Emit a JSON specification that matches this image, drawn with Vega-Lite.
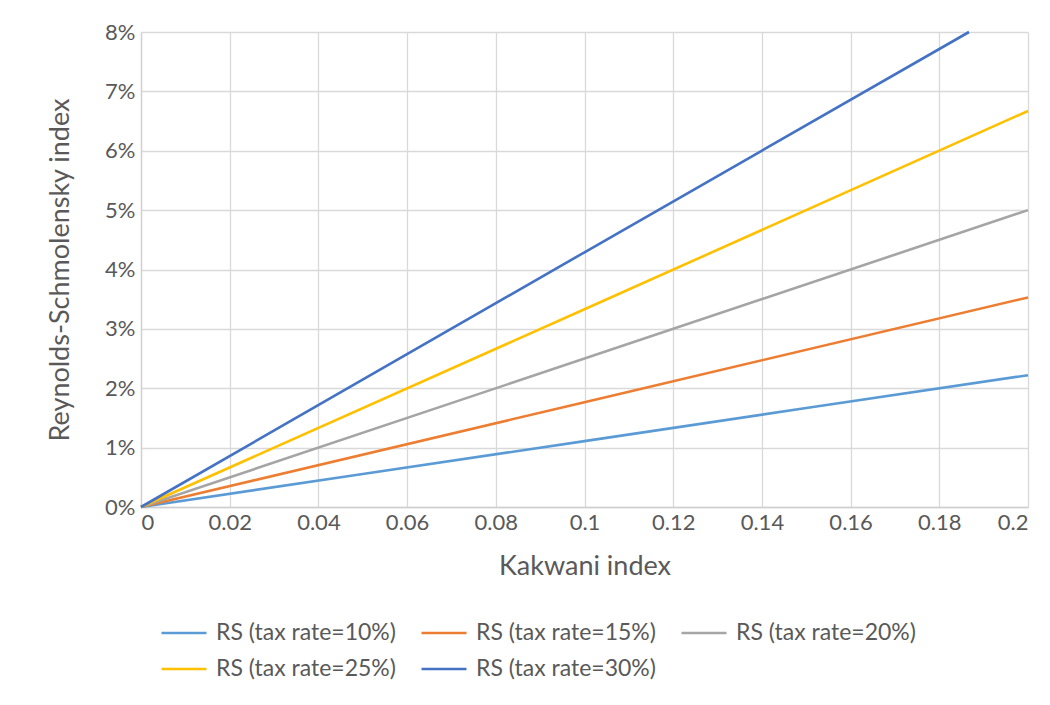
{
  "$schema": "https://vega.github.io/schema/vega-lite/v6.json",
  "width": 887,
  "height": 475,
  "autosize": {"type": "none"},
  "padding": {"left": 141, "top": 32, "right": 22, "bottom": 198},
  "background": "white",
  "config": {
    "font": "Lato",
    "view": {"stroke": null},
    "axis": {
      "labelFont": "Lato", "titleFont": "Lato",
      "labelColor": "#595959", "titleColor": "#595959",
      "labelFontSize": 22, "titleFontSize": 27, "titleFontWeight": "normal",
      "gridColor": "#d9d9d9", "gridWidth": 1.3, "domainColor": "#d0d0d0", "domainWidth": 1.3,
      "ticks": false
    }
  },
  "data": {"values": [
    {"k": 0, "rs": 0, "s": "RS (tax rate=10%)"},
    {"k": 0.05, "rs": 0.00556, "s": "RS (tax rate=10%)"},
    {"k": 0.1, "rs": 0.0111, "s": "RS (tax rate=10%)"},
    {"k": 0.15, "rs": 0.01667, "s": "RS (tax rate=10%)"},
    {"k": 0.2, "rs": 0.0222, "s": "RS (tax rate=10%)"},
    {"k": 0, "rs": 0, "s": "RS (tax rate=15%)"},
    {"k": 0.1, "rs": 0.01765, "s": "RS (tax rate=15%)"},
    {"k": 0.2, "rs": 0.0353, "s": "RS (tax rate=15%)"},
    {"k": 0, "rs": 0, "s": "RS (tax rate=20%)"},
    {"k": 0.1, "rs": 0.025, "s": "RS (tax rate=20%)"},
    {"k": 0.2, "rs": 0.05, "s": "RS (tax rate=20%)"},
    {"k": 0, "rs": 0, "s": "RS (tax rate=25%)"},
    {"k": 0.1, "rs": 0.0333, "s": "RS (tax rate=25%)"},
    {"k": 0.2, "rs": 0.0667, "s": "RS (tax rate=25%)"},
    {"k": 0, "rs": 0, "s": "RS (tax rate=30%)"},
    {"k": 0.1, "rs": 0.0429, "s": "RS (tax rate=30%)"},
    {"k": 0.1867, "rs": 0.08, "s": "RS (tax rate=30%)"}
  ]},
  "mark": {"type": "line", "strokeWidth": 2.6},
  "encoding": {
    "x": {
      "field": "k", "type": "quantitative",
      "scale": {"domain": [0, 0.2], "nice": false, "zero": true},
      "axis": {"values": [0, 0.02, 0.04, 0.06, 0.08, 0.1, 0.12, 0.14, 0.16, 0.18, 0.2], "format": "~g", "title": "Kakwani index", "titlePadding": 20, "labelPadding": 5}
    },
    "y": {
      "field": "rs", "type": "quantitative",
      "scale": {"domain": [0, 0.08], "nice": false},
      "axis": {"values": [0, 0.01, 0.02, 0.03, 0.04, 0.05, 0.06, 0.07, 0.08], "format": ".0%", "title": "Reynolds-Schmolensky index", "titlePadding": 30, "labelPadding": 6}
    },
    "color": {
      "field": "s", "type": "nominal",
      "scale": {
        "domain": ["RS (tax rate=10%)", "RS (tax rate=15%)", "RS (tax rate=20%)", "RS (tax rate=25%)", "RS (tax rate=30%)"],
        "range": ["#5B9BD5", "#ED7D31", "#A5A5A5", "#FFC000", "#4472C4"]
      },
      "legend": {
        "title": null, "orient": "none", "legendX": 19, "legendY": 577,
        "direction": "horizontal", "columns": 3,
        "symbolType": "stroke", "symbolSize": 2025, "symbolStrokeWidth": 2.6,
        "labelFontSize": 23, "labelColor": "#595959", "labelFont": "Lato",
        "columnPadding": 20, "rowPadding": -14, "labelOffset": 8, "labelLimit": 400
      }
    }
  }
}
